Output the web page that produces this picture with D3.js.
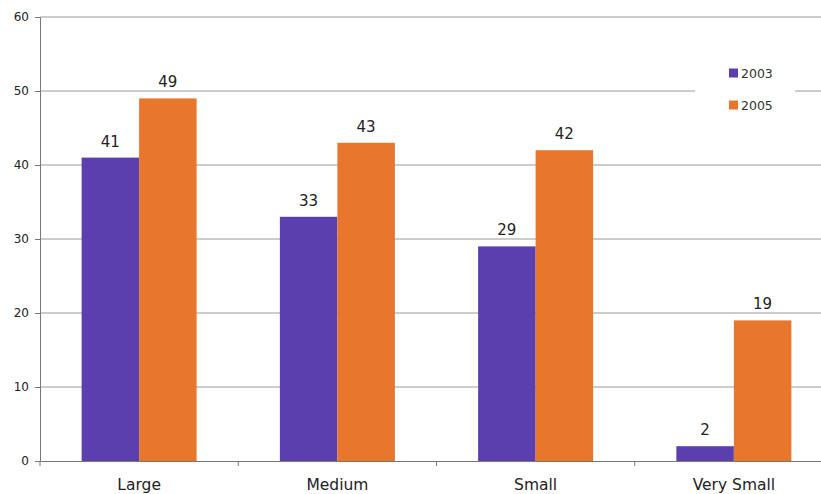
<!DOCTYPE html>
<html><head><meta charset="utf-8">
<script src="https://cdn.jsdelivr.net/npm/d3@7"></script>
<style>body{margin:0;background:#fff}svg{display:block}</style>
</head><body>
<script>
const categories = ["Large", "Medium", "Small", "Very Small"];
const seriesNames = ["2003", "2005"];
const values2003 = [41, 33, 29, 2];
const values2005 = [49, 43, 42, 19];
const yTicks = [0, 10, 20, 30, 40, 50, 60];
const colors = ["#5b3fae", "#e8762c"];

const W = 821, H = 494;
const svg = d3.select("body").append("svg").attr("width", W).attr("height", H);
const font = "Verdana, 'DejaVu Sans', sans-serif";

const x = d3.scaleBand().domain(categories).range([40, 833]);
const y = d3.scaleLinear().domain([0, 60]).range([461, 17]);
const inner = d3.scaleBand().domain(seriesNames).range([0, 115]);

// gridlines
svg.append("g").selectAll("line").data(yTicks.filter(d => d > 0)).join("line")
  .attr("x1", 40).attr("x2", W).attr("y1", d => y(d)).attr("y2", d => y(d))
  .attr("stroke", "#9a9a9a").attr("stroke-width", 1);

// y axis
const ya = svg.append("g").attr("transform", "translate(40,0)")
  .call(d3.axisLeft(y).tickValues(yTicks).tickSize(5).tickPadding(6));
ya.select(".domain").attr("stroke", "#777");
ya.selectAll(".tick line").attr("stroke", "#777");
ya.selectAll("text").attr("font-family", font).attr("font-size", 12).attr("fill", "#222");

const series = [values2003, values2005];
categories.forEach((c, i) => {
  seriesNames.forEach((s, j) => {
    const v = series[j][i];
    const bx = x(c) + x.bandwidth() / 2 - 57.5 + inner(s);
    svg.append("rect").attr("x", bx).attr("y", y(v)).attr("width", inner.bandwidth())
      .attr("height", y(0) - y(v)).attr("fill", colors[j]);
    svg.append("text").attr("x", bx + inner.bandwidth() / 2).attr("y", y(v) - 11)
      .attr("text-anchor", "middle").attr("font-family", font).attr("font-size", 15)
      .attr("fill", "#222").text(v);
  });
});

// x axis
const xa = svg.append("g").attr("transform", "translate(0,461)")
  .call(d3.axisBottom(x).tickSize(0).tickPadding(18));
xa.select(".domain").attr("stroke", "#777");
xa.selectAll("text").attr("font-family", font).attr("font-size", 15.5).attr("fill", "#222");
svg.append("g").selectAll("line").data(d3.range(categories.length + 1)).join("line")
  .attr("x1", d => 40 + d * x.step()).attr("x2", d => 40 + d * x.step())
  .attr("y1", 461).attr("y2", 466).attr("stroke", "#777");

// legend
const lg = svg.append("g");
lg.append("rect").attr("x", 695).attr("y", 58).attr("width", 100).attr("height", 62).attr("fill", "#fff");
seriesNames.forEach((s, j) => {
  const yy = 73 + j * 32;
  lg.append("rect").attr("x", 729).attr("y", yy - 4.5).attr("width", 9).attr("height", 9).attr("fill", colors[j]);
  lg.append("text").attr("x", 741).attr("y", yy + 4.5).attr("font-family", font).attr("font-size", 12.5)
    .attr("fill", "#333").text(s);
});
</script>
</body></html>
